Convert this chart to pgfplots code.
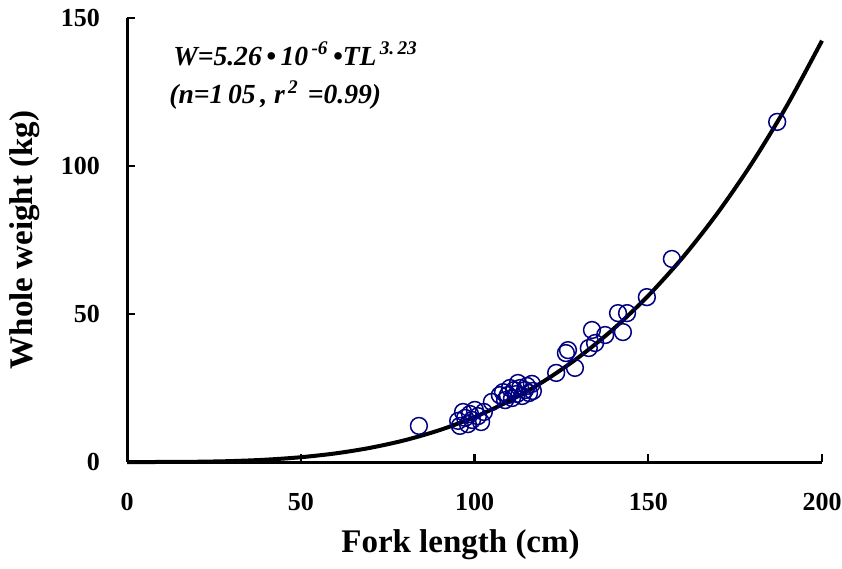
\documentclass[border=0pt]{standalone}
\usepackage{fontspec}
\setmainfont{Liberation Serif}
\usepackage{pgfplots}
\pgfplotsset{compat=1.18}
\definecolor{navy}{RGB}{0,0,128}
\begin{document}
\begin{tikzpicture}
\begin{axis}[
 scale only axis, width=347.5pt, height=222pt,
 xmin=0, xmax=200, ymin=0, ymax=150,
 axis lines=left, axis line style={-, line width=1.5pt},
 xtick={0,50,100,150,200}, ytick={0,50,100,150},
 tick align=inside, major tick length=4pt,
 tick style={line width=1.2pt, black},
 ticklabel style={font=\fontsize{13}{15}\selectfont\bfseries},
 /pgf/number format/assume math mode=true,
 xticklabel style={anchor=north, yshift=-12pt},
 yticklabel style={anchor=east, xshift=-10pt},
 xlabel={Fork length (cm)}, ylabel={Whole weight (kg)},
 label style={font=\fontsize{16.5}{18}\selectfont\bfseries},
 xlabel style={at={(axis description cs:0.5,0)}, anchor=center, yshift=-41.5pt, xshift=-7pt},
 ylabel style={at={(axis description cs:0,0.5)}, anchor=center, rotate=0},
 every axis y label/.append style={yshift=51pt},
 clip=false,
]
\addplot[black, line width=2pt, smooth] coordinates {
 (0,0) (10,0.0089) (20,0.0838) (30,0.3105) (40,0.7864) (50,1.6167) (60,2.9134)
 (70,4.7937) (80,7.3784) (90,10.794) (100,15.171) (110,20.640) (120,27.338)
 (130,35.41) (140,44.97) (150,56.19) (160,69.22) (170,84.21) (180,101.28)
 (190,120.60) (200,142.34)
};
\addplot[only marks, mark=o, mark size=4.2pt, navy, mark options={line width=0.75pt}] coordinates {
 (84.0,12.2) (95.3,13.9) (95.8,12.2) (97.3,14.9) (98.7,16.2) (99.3,14.2)
 (100.1,17.6) (101.0,15.5) (101.9,13.5) (102.7,16.9) (98.1,12.8) (96.7,16.9)
 (105.0,20.3) (108.2,23.6) (108.8,20.9) (109.6,22.6) (110.8,21.6) (111.4,24.3)
 (112.2,23.0) (113.1,25.0) (113.7,22.3) (114.5,24.3) (115.1,25.7) (115.7,23.3)
 (116.5,26.4) (116.8,24.0) (110.2,25.0) (112.5,26.7) (107.3,22.6)
 (123.5,30.1) (126.3,36.8) (126.9,37.8) (128.9,31.8) (133.8,44.6) (132.9,38.5)
 (134.7,40.2) (137.6,42.9) (141.3,50.3) (143.9,50.3) (142.7,43.9) (149.6,55.7)
 (156.8,68.6) (187.1,114.9)
};
\node[anchor=base west, inner sep=0pt, font=\fontsize{13.8}{16}\selectfont\bfseries\itshape] at (axis cs:13.2,134.1)
 {W=5.26\,\textbullet\,10\textsuperscript{\,-6}\,\textbullet TL\textsuperscript{\,3.\,23}};
\node[anchor=base west, inner sep=0pt, font=\fontsize{13.8}{16}\selectfont\bfseries\itshape] at (axis cs:12.1,121)
 {(n=1\,05\,, r\textsuperscript{\,2}\,\,=0.99)};
\end{axis}
\pgfresetboundingbox
\path (current axis.south west) ++(-63.5pt,-53pt) rectangle ([shift={(10pt,9pt)}]current axis.north east);
\end{tikzpicture}
\end{document}
